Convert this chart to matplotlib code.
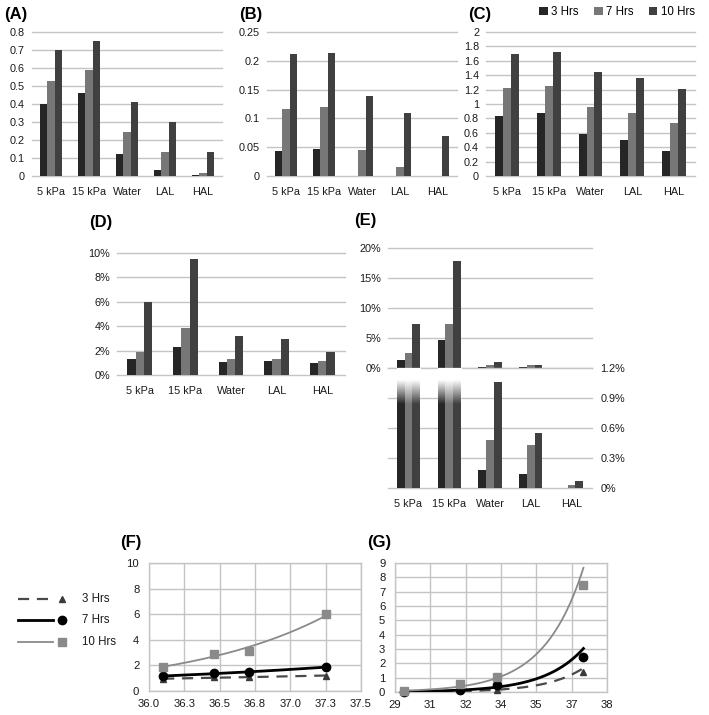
import numpy as np
import matplotlib
matplotlib.use('Agg')
import matplotlib.pyplot as plt
from matplotlib.patches import Patch

plt.rcParams['font.family'] = ['Liberation Sans', 'DejaVu Sans']

# ---------------- data ----------------
categories = ['5 kPa', '15 kPa', 'Water', 'LAL', 'HAL']
series = ['3 Hrs', '7 Hrs', '10 Hrs']

a_3 = [0.40, 0.46, 0.12, 0.035, 0.005]
a_7 = [0.53, 0.59, 0.245, 0.135, 0.018]
a_10 = [0.70, 0.75, 0.41, 0.30, 0.135]

b_3 = [0.043, 0.047, 0.0, 0.0, 0.0]
b_7 = [0.116, 0.120, 0.045, 0.016, 0.0]
b_10 = [0.211, 0.214, 0.139, 0.110, 0.070]

c_3 = [0.84, 0.87, 0.59, 0.50, 0.35]
c_7 = [1.22, 1.25, 0.965, 0.88, 0.73]
c_10 = [1.70, 1.72, 1.45, 1.355, 1.215]

d_3 = [1.29, 2.27, 1.10, 1.18, 0.96]      # percent
d_7 = [1.89, 3.89, 1.32, 1.34, 1.18]
d_10 = [6.0, 9.5, 3.18, 2.93, 1.89]

e_3 = [1.4, 4.6, 0.18, 0.143, 0.0]        # percent
e_7 = [2.5, 7.4, 0.477, 0.427, 0.035]
e_10 = [7.4, 17.9, 1.06, 0.55, 0.075]

f_x = [36.10, 36.46, 36.71, 37.25]
f_3 = [0.93, 1.10, 1.06, 1.20]
f_7 = [1.18, 1.37, 1.45, 1.89]
f_10 = [1.89, 2.89, 3.16, 6.03]

g_x = [29.38, 31.75, 33.33, 37.0]
g_3 = [0.008, 0.12, 0.15, 1.38]
g_7 = [0.025, 0.15, 0.47, 2.46]
g_10 = [0.07, 0.55, 1.05, 7.45]

a_ticks = [0, 0.1, 0.2, 0.3, 0.4, 0.5, 0.6, 0.7, 0.8]
a_labels = ['0', '0.1', '0.2', '0.3', '0.4', '0.5', '0.6', '0.7', '0.8']
b_ticks = [0, 0.05, 0.1, 0.15, 0.2, 0.25]
b_labels = ['0', '0.05', '0.1', '0.15', '0.2', '0.25']
c_ticks = [0, 0.2, 0.4, 0.6, 0.8, 1.0, 1.2, 1.4, 1.6, 1.8, 2.0]
c_labels = ['0', '0.2', '0.4', '0.6', '0.8', '1', '1.2', '1.4', '1.6', '1.8', '2']
d_ticks = [0, 2, 4, 6, 8, 10]
d_labels = ['0%', '2%', '4%', '6%', '8%', '10%']
e_top_ticks = [0, 5, 10, 15, 20]
e_top_labels = ['0%', '5%', '10%', '15%', '20%']
e_bot_ticks = [0, 0.3, 0.6, 0.9, 1.2]
e_bot_labels = ['0%', '0.3%', '0.6%', '0.9%', '1.2%']
f_xticks = [36.0, 36.25, 36.5, 36.75, 37.0, 37.25, 37.5]
f_xlabels = ['36.0', '36.3', '36.5', '36.8', '37.0', '37.3', '37.5']
f_yticks = [0, 2, 4, 6, 8, 10]
g_xticks = [29, 30.5, 32, 33.5, 35, 36.5, 38]
g_xlabels = ['29', '31', '32', '34', '35', '37', '38']
g_yticks = [0, 1, 2, 3, 4, 5, 6, 7, 8, 9]

# ---------------- style ----------------
W, H = 709, 715
BAR_COLORS = ['#262626', '#777777', '#404040']
GRID = '#c4c4c4'
TXT = '#1a1a1a'
TICK_FS = 7.8
PANEL_FS = 12

fig = plt.figure(figsize=(W / 100, H / 100), dpi=100)
fig.patch.set_facecolor('white')


def px_axes(x0, y0, x1, y1):
    return fig.add_axes([x0 / W, 1 - y1 / H, (x1 - x0) / W, (y1 - y0) / H])


def bar_panel(ax, vals3, vals7, vals10, width, top, ticks, labels, show_x=True):
    x = np.arange(len(categories))
    for k, (vals, col) in enumerate(zip([vals3, vals7, vals10], BAR_COLORS)):
        ax.bar(x + (k - 1) * width, vals, width, color=col, zorder=2, linewidth=0)
    ax.set_xlim(-0.5, len(categories) - 0.5)
    ax.set_ylim(0, top)
    ax.set_yticks(ticks)
    ax.set_yticklabels(labels)
    ax.set_xticks(x)
    if show_x:
        ax.set_xticklabels(categories)
    else:
        ax.set_xticklabels([])
    ax.yaxis.grid(True, color=GRID, lw=1.0)
    ax.set_axisbelow(True)
    for gl in ax.get_ygridlines():
        gl.set_clip_on(False)
    for s in ax.spines.values():
        s.set_visible(False)
    ax.tick_params(length=0, labelsize=TICK_FS, colors=TXT)
    ax.tick_params(axis='y', pad=5)
    ax.tick_params(axis='x', pad=8)


# Panel A
axA = px_axes(32, 32, 222, 176)
bar_panel(axA, a_3, a_7, a_10, 0.2, 0.8, a_ticks, a_labels)
fig.text(4 / W, 1 - 15 / H, '(A)', fontsize=PANEL_FS, fontweight='bold', va='center')

# Panel B
axB = px_axes(267, 32, 457, 176)
bar_panel(axB, b_3, b_7, b_10, 0.2, 0.25, b_ticks, b_labels)
fig.text(239 / W, 1 - 15 / H, '(B)', fontsize=PANEL_FS, fontweight='bold', va='center')

# Panel C
axC = px_axes(486, 32, 695, 176)
bar_panel(axC, c_3, c_7, c_10, 0.19, 2.0, c_ticks, c_labels)
fig.text(468 / W, 1 - 14 / H, '(C)', fontsize=PANEL_FS, fontweight='bold', va='center')
handles = [Patch(facecolor=c, edgecolor='none') for c in BAR_COLORS]
fig.legend(handles, series, loc='center', bbox_to_anchor=(617 / W, 1 - 12 / H),
           ncol=3, frameon=False, fontsize=8.3, handlelength=0.75, handleheight=0.75,
           handletextpad=0.3, columnspacing=1.3, borderaxespad=0)

# Panel D
axD = px_axes(117, 253, 345, 375)
bar_panel(axD, d_3, d_7, d_10, 0.18, 10, d_ticks, d_labels)
fig.text(89 / W, 1 - 222 / H, '(D)', fontsize=PANEL_FS, fontweight='bold', va='center')

# Panel E (broken axis)
axEt = px_axes(388, 248, 592, 368)
bar_panel(axEt, e_3, e_7, e_10, 0.19, 20, e_top_ticks, e_top_labels, show_x=False)
axEb = px_axes(388, 368, 592, 488)
bar_panel(axEb, e_3, e_7, e_10, 0.19, 1.2, e_bot_ticks, e_bot_labels)
axEb.yaxis.tick_right()
axEb.tick_params(axis='y', pad=6, length=0)
fig.text(354 / W, 1 - 221 / H, '(E)', fontsize=PANEL_FS, fontweight='bold', va='center')
# fade-out of the bars that exceed the lower axis
ytop = 1.2
yg = np.linspace(0.84, ytop, 256)
grad = np.ones((256, 1, 4))
grad[:, 0, 3] = np.clip((yg - 0.84) / (1.08 - 0.84), 0, 1)
for i, vals in enumerate(zip(e_3, e_7, e_10)):
    if max(vals) > ytop:
        axEb.imshow(grad, extent=(i - 1.5 * 0.19, i + 1.5 * 0.19, 0.84, ytop), origin='lower',
                    aspect='auto', zorder=3, interpolation='bilinear')
axEb.set_xlim(-0.5, len(categories) - 0.5)
axEb.set_ylim(0, ytop)


# ---------------- F and G: scatter with exponential trendlines ----------------
def exp_fit(x, y, n=200):
    x = np.asarray(x, float)
    y = np.asarray(y, float)
    b, a = np.polyfit(x, np.log(y), 1)
    xx = np.linspace(x.min(), x.max(), n)
    return xx, np.exp(a + b * xx)


LINE_STY = {
    '3 Hrs': dict(color='#4a4a4a', lw=1.6, ls=(0, (5, 3.5))),
    '7 Hrs': dict(color='#000000', lw=2.0, ls='-'),
    '10 Hrs': dict(color='#8a8a8a', lw=1.3, ls='-'),
}
MARK_STY = {
    '3 Hrs': dict(marker='^', color='#3a3a3a', ms=5.0),
    '7 Hrs': dict(marker='o', color='#000000', ms=6.0),
    '10 Hrs': dict(marker='s', color='#8a8a8a', ms=5.8),
}


def scatter_panel(ax, x, ys, xlim, xticks, xlabels, ylim, yticks):
    for name, y in zip(series, ys):
        xx, yy = exp_fit(x, y)
        ax.plot(xx, yy, zorder=3, **LINE_STY[name])
    for name, y in zip(series, ys):
        st = MARK_STY[name]
        ax.plot(x, y, ls='none', marker=st['marker'], color=st['color'], ms=st['ms'],
                mec=st['color'], zorder=4, clip_on=False)
    ax.set_xlim(*xlim)
    ax.set_ylim(*ylim)
    ax.set_xticks(xticks)
    ax.set_xticklabels(xlabels)
    ax.set_yticks(yticks)
    ax.set_yticklabels([str(t) for t in yticks])
    ax.grid(True, color=GRID, lw=1.0)
    ax.set_axisbelow(True)
    for s in ax.spines.values():
        s.set_color(GRID)
        s.set_linewidth(1.0)
    ax.tick_params(length=0, labelsize=TICK_FS + 0.3, colors=TXT)
    ax.tick_params(axis='y', pad=7)
    ax.tick_params(axis='x', pad=6)


axF = px_axes(149, 563, 361, 691)
scatter_panel(axF, f_x, [f_3, f_7, f_10], (36.0, 37.5), f_xticks, f_xlabels, (0, 10), f_yticks)
fig.text(120 / W, 1 - 543 / H, '(F)', fontsize=PANEL_FS, fontweight='bold', va='center')

axG = px_axes(395, 563, 607, 692)
scatter_panel(axG, g_x, [g_3, g_7, g_10], (29, 38), g_xticks, g_xlabels, (0, 9), g_yticks)
fig.text(367 / W, 1 - 542 / H, '(G)', fontsize=PANEL_FS, fontweight='bold', va='center')

# legend for F/G (left side)
axL = fig.add_axes([0, 0, 1, 1], zorder=-1)
axL.set_xlim(0, W)
axL.set_ylim(H, 0)
axL.axis('off')
for name, yrow in zip(series, [599, 620, 642]):
    axL.plot([18, 53], [yrow, yrow], **LINE_STY[name])
    st = MARK_STY[name]
    axL.plot([62], [yrow], ls='none', marker=st['marker'], color=st['color'], ms=st['ms'])
    axL.text(82, yrow, name, fontsize=8.3, va='center', ha='left', color=TXT)

fig.savefig('out.png', dpi=100, facecolor='white')
